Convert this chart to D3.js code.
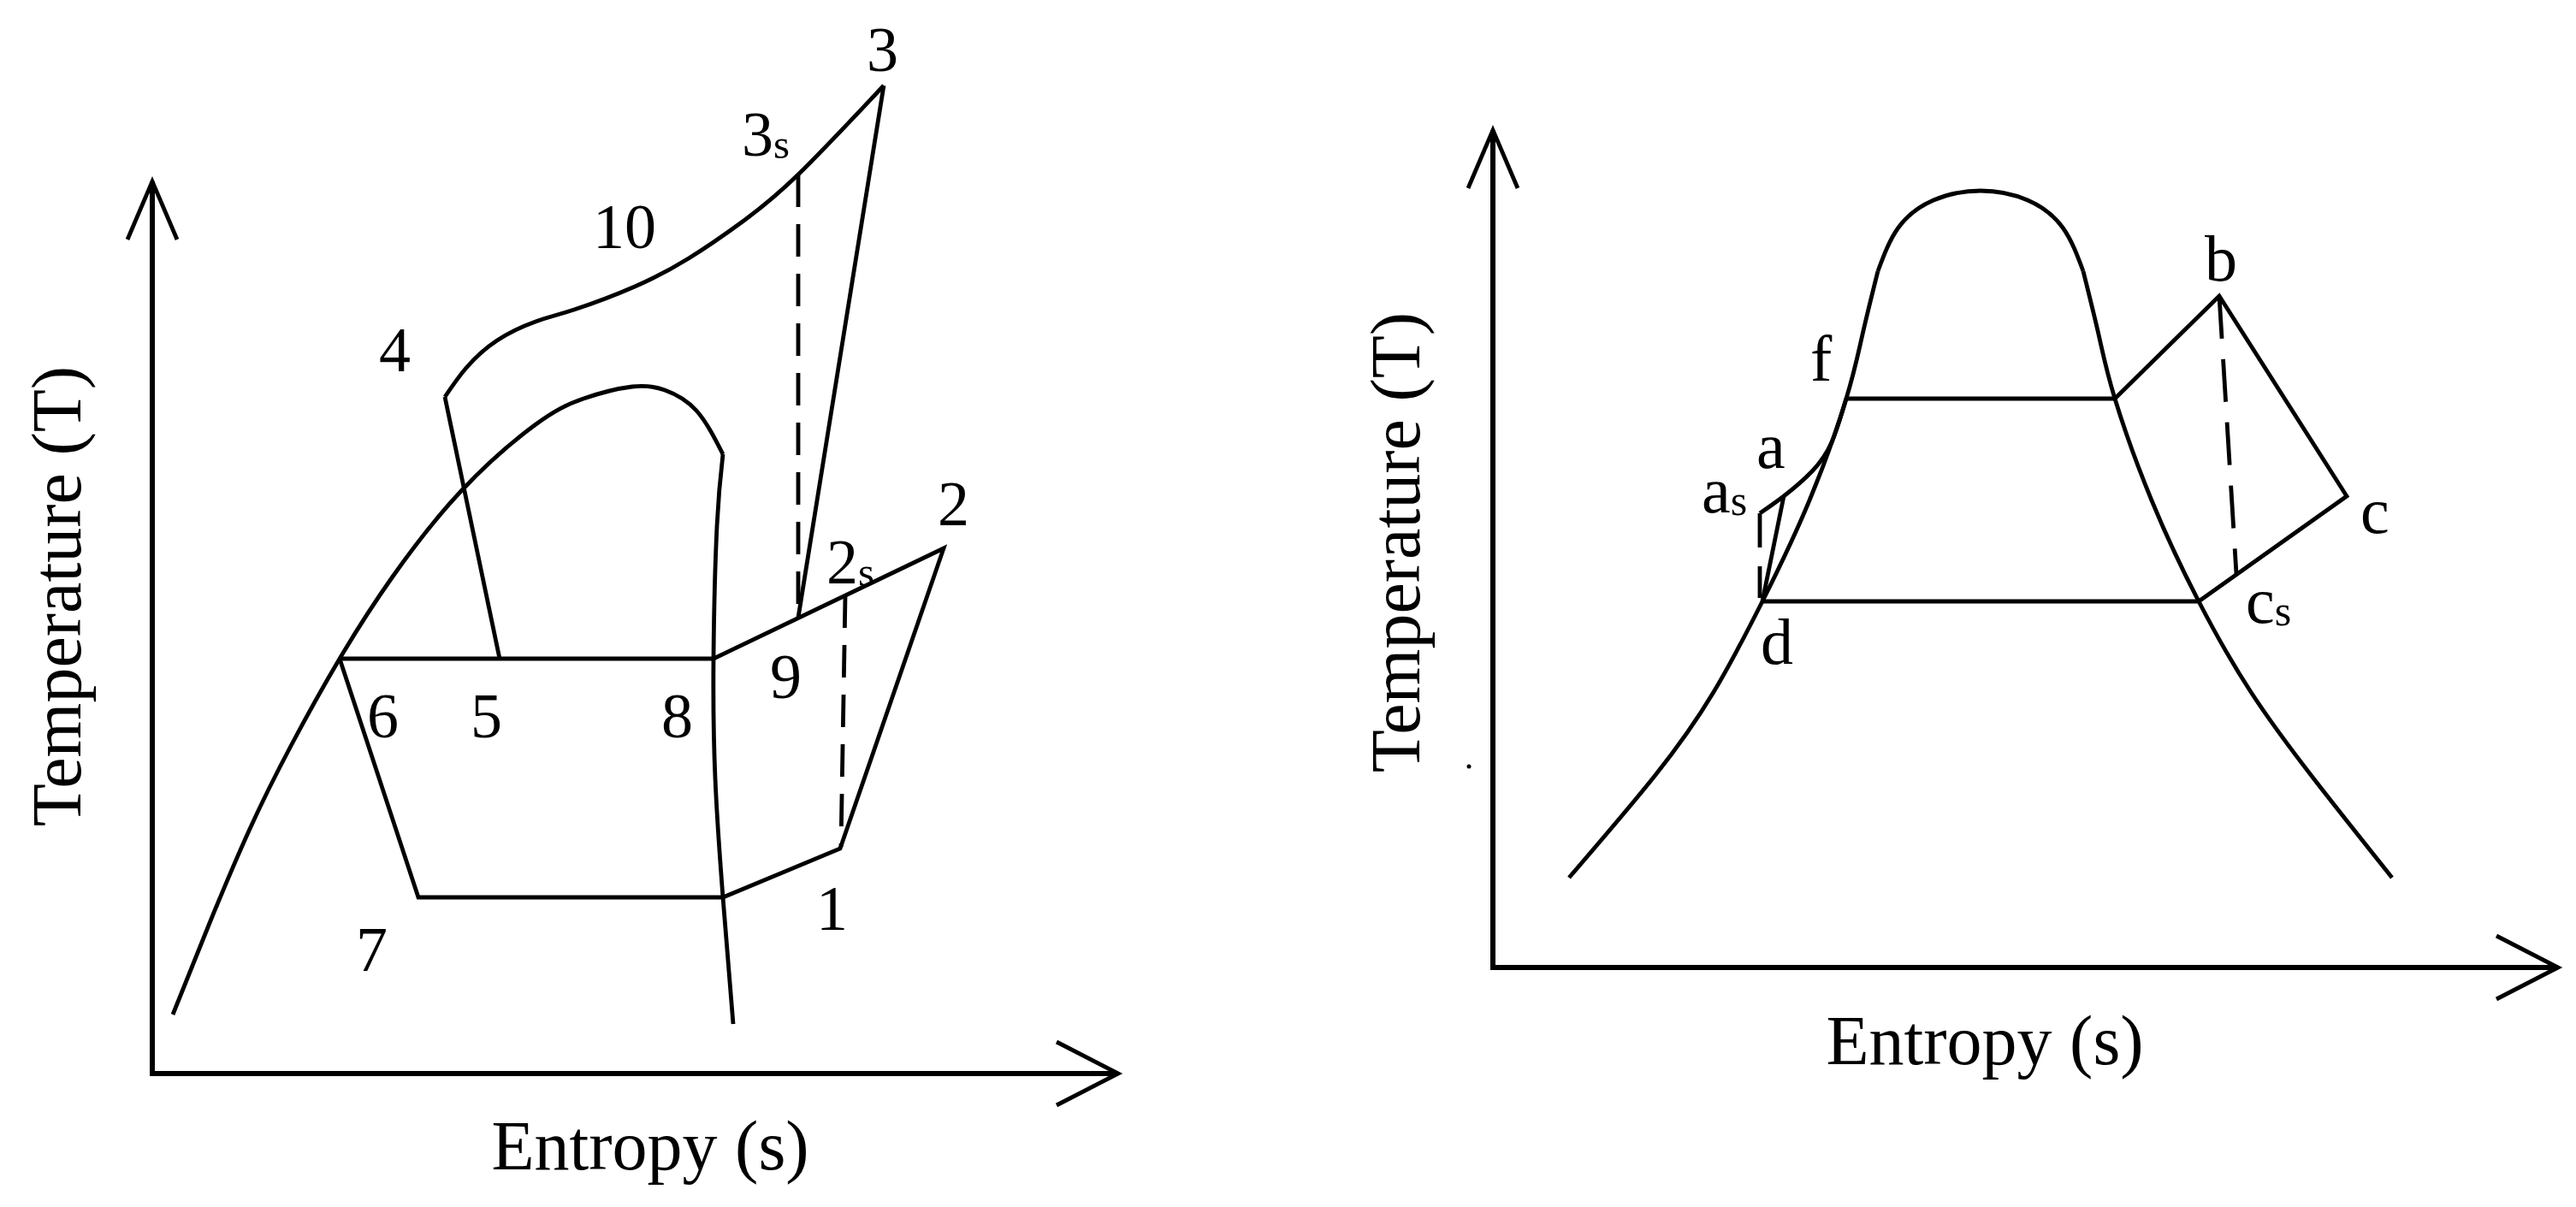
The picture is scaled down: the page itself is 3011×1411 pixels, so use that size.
<!DOCTYPE html>
<html><head><meta charset="utf-8">
<script src="https://cdn.jsdelivr.net/npm/d3@7"></script>
<style>html,body{margin:0;padding:0;background:#fff;}svg{display:block;}</style>
</head><body>
<svg id="c" width="3011" height="1411"></svg>
<script>
// ---------- DATA (schematic T–s diagrams, arbitrary units) ----------
// Left panel
const L_axisMin = { s: -0.2, T: -0.5 };
const L_axisMax = { s: 112.7, T: 103.8 };
const L_satRise = [[2.2,6.4],[6.5,17.1],[11.2,28.1],[16.0,37.8],[21.7,48.0],[27.9,57.6],[35.9,67.6],[44.5,75.3],[50.2,78.4],[55.9,79.8],[59.7,79.4],[63.4,77.0],[66.5,71.9]];
const L_satFall = [[66.5,71.9],[65.8,63.5],[65.4,48.0],[65.6,34.0],[66.5,20.1],[67.7,5.3]];
const L_heatCurve = [[34,78.6],[36.5,82.0],[40.1,85.2],[44.6,87.4],[49.1,88.8],[56.2,91.5],[62.5,94.8],[68.8,99.1],[75.3,104.6],[85.3,115.0]];
const L_line45 = [[34,78.6],[40.4,48]];
const L_line68 = [[21.7,48],[65.4,48]];
const L_loop = [[21.7,48],[30.9,20.1],[66.5,20.1],[80.2,25.8],[92.3,60.9],[65.4,48]];
const L_line39 = [[85.3,115.0],[75.3,52.8]];
const L_dash3s = [[75.3,104.6],[75.3,52.8]];
const L_dash2s = [[80.8,55.4],[80.3,26.0]];
const L_labels = [
  {t:"3", sub:"", s:83.3, T:116.7},
  {t:"3", sub:"s", s:68.7, T:106.8},
  {t:"10", sub:"", s:51.3, T:96.0},
  {t:"4", sub:"", s:26.3, T:81.6},
  {t:"2", sub:"", s:91.6, T:63.6},
  {t:"2", sub:"s", s:78.6, T:56.8},
  {t:"9", sub:"", s:72.0, T:43.4},
  {t:"6", sub:"", s:24.9, T:38.8},
  {t:"5", sub:"", s:37.0, T:38.8},
  {t:"8", sub:"", s:59.3, T:38.8},
  {t:"7", sub:"", s:23.6, T:11.5},
  {t:"1", sub:"", s:77.4, T:16.3}
];
// Right panel
const R_axisMin = { s: 0, T: 0 };
const R_axisMax = { s: 124.5, T: 97.9 };
const R_domeLeft = [[8.9,10.5],[19.0,22.5],[25.8,32.2],[31.5,42.8],[37.0,54.6],[41.3,66.5],[43.2,74.0],[45.0,81.4]];
const R_domeTop = [[45.0,81.4],[47.4,86.5],[51.5,89.7],[57.0,90.8],[62.5,89.7],[66.6,86.5],[69.0,81.4]];
const R_domeRight = [[69.0,81.4],[70.8,74.0],[72.7,66.5],[77.0,54.6],[82.5,42.8],[88.6,32.2],[96.0,22.0],[105.1,10.5]];
const R_lineF = [[41.3,66.5],[72.7,66.5]];
const R_lineD = [[31.5,42.8],[82.5,42.8]];
const R_turbine = [[72.7,66.5],[84.9,78.5],[99.8,55.1],[82.5,42.8]];
const R_dashB = [[84.9,78.5],[86.9,46.0]];
const R_pumpCurve = [[31.2,53.1],[34.0,55.1],[37.3,58.0],[39.6,61.4],[41.3,66.5]];
const R_lineAD = [[34.0,55.1],[31.5,42.8]];
const R_dashA = [[31.2,53.1],[31.2,43.2]];
const R_labels = [
  {t:"b", sub:"", s:83.2, T:80.3},
  {t:"f", sub:"", s:37.1, T:68.6},
  {t:"a", sub:"", s:30.8, T:58.4},
  {t:"a", sub:"s", s:24.4, T:53.2},
  {t:"c", sub:"", s:101.4, T:50.8},
  {t:"c", sub:"s", s:88.0, T:40.3},
  {t:"d", sub:"", s:31.3, T:35.5}
];
const xTitle = "Entropy (s)";
const yTitle = "Temperature (T)";

// ---------- DRAW ----------
const svg = d3.select("#c");
const FONT = "'Liberation Serif','Times New Roman',serif";
const LINE_W = 4.8, AXIS_W = 6;

function panel(cfg){
  const x = d3.scaleLinear().domain([0,100]).range([cfg.ox, cfg.ox + 1000]);
  const y = d3.scaleLinear().domain([0,100]).range([cfg.oy, cfg.oy - 1000]);
  const g = svg.append("g");
  const lineStraight = d3.line().x(d=>x(d[0])).y(d=>y(d[1]));
  const lineCurve = d3.line().x(d=>x(d[0])).y(d=>y(d[1])).curve(d3.curveNatural);
  const draw = (pts, curved, dash) => g.append("path")
      .attr("d", (curved ? lineCurve : lineStraight)(pts))
      .attr("fill","none").attr("stroke","#000").attr("stroke-width",LINE_W)
      .attr("stroke-linejoin","miter").attr("stroke-linecap","butt")
      .attr("stroke-dasharray", dash || null);
  // axes with open arrow heads
  const ax0 = x(cfg.axisMin.s), ay0 = y(cfg.axisMin.T), axE = x(cfg.axisMax.s), ayE = y(cfg.axisMax.T);
  g.append("path").attr("d", `M${ax0},${ayE}L${ax0},${ay0}L${axE},${ay0}`)
    .attr("fill","none").attr("stroke","#000").attr("stroke-width",AXIS_W);
  g.append("path").attr("d", `M${ax0-29},${ayE+68}L${ax0},${ayE}L${ax0+29},${ayE+68}`)
    .attr("fill","none").attr("stroke","#000").attr("stroke-width",LINE_W);
  g.append("path").attr("d", `M${axE-72},${ay0-37}L${axE},${ay0}L${axE-72},${ay0+37}`)
    .attr("fill","none").attr("stroke","#000").attr("stroke-width",LINE_W);
  cfg.paths.forEach(p => draw(p[0], p[1], p[2]));
  // point labels
  cfg.labels.forEach(l => {
    const t = g.append("text").attr("x", x(l.s)).attr("y", y(l.T))
      .attr("font-family", FONT).attr("font-size", cfg.labelSize).attr("fill","#000").text(l.t);
    if (l.sub) t.append("tspan").attr("font-size", cfg.labelSize*0.66).attr("dy", cfg.labelSize*0.04).text(l.sub);
  });
  // axis titles
  g.append("text").attr("x", cfg.xTitle[0]).attr("y", cfg.xTitle[1])
    .attr("text-anchor","middle").attr("font-family",FONT).attr("font-size",cfg.titleSize).text(xTitle);
  g.append("text").attr("transform", `translate(${cfg.yTitle[0]},${cfg.yTitle[1]}) rotate(-90)`)
    .attr("text-anchor","middle").attr("font-family",FONT).attr("font-size",cfg.titleSize).text(yTitle);
  return {x,y,g};
}

panel({
  ox:180, oy:1250, axisMin:L_axisMin, axisMax:L_axisMax, labelSize:74, titleSize:82,
  xTitle:[760,1367], yTitle:[94,697],
  labels:L_labels,
  paths:[
    [L_satRise,true],[L_satFall,true],[L_heatCurve,true],
    [L_line45,false],[L_line68,false],[L_loop,false],[L_line39,false],
    [L_dash3s,false,"38,20"],[L_dash2s,false,"38,20"]
  ]
});
const R = panel({
  ox:1745, oy:1131, axisMin:R_axisMin, axisMax:R_axisMax, labelSize:76, titleSize:82,
  xTitle:[2320,1244], yTitle:[1659,634],
  labels:R_labels,
  paths:[
    [R_domeLeft,true],[R_domeTop,true],[R_domeRight,true],
    [R_lineF,false],[R_lineD,false],[R_turbine,false],
    [R_pumpCurve,true],[R_lineAD,false],
    [R_dashB,false,"50,24"],[R_dashA,false,"40,22"]
  ]
});
// stray dot present in the original figure
R.g.append("circle").attr("cx", R.x(-2.8)).attr("cy", R.y(23.5)).attr("r",2.5).attr("fill","#000");
</script>
</body></html>
